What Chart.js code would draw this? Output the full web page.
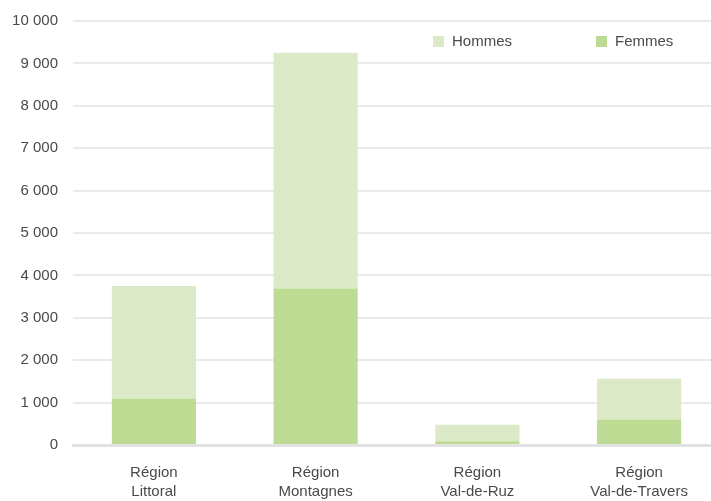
<!DOCTYPE html>
<html lang="fr">
<head>
    <meta charset="UTF-8">
    <title>Régions - Hommes / Femmes</title>
    <script src="https://cdn.jsdelivr.net/npm/chart.js"></script>
    <style>
        html, body {
            margin: 0;
            padding: 0;
            background: #ffffff;
            overflow: hidden;
        }
        #wrap {
            width: 720px;
            height: 504px;
            margin-top: -3px;
        }
    </style>
</head>
<body>
    <div id="wrap"><canvas id="chart"></canvas></div>

    <script>
        // données
        const regions = [['Région', 'Littoral'], ['Région', 'Montagnes'], ['Région', 'Val-de-Ruz'], ['Région', 'Val-de-Travers']];
        const femmes = [1095, 3690, 90, 600];
        const hommes = [2655, 5560, 385, 960];
        const legendOrder = ['Hommes', 'Femmes'];

        const textColor = '#4a4a4a';
        const fontFamily = "'Liberation Sans', Arial, sans-serif";

        // légende dessinée à la main (deux entrées sur une ligne)
        const customLegend = {
            id: 'customLegend',
            afterDraw(chart) {
                const ctx = chart.ctx;
                const xs = [433, 596];
                ctx.save();
                ctx.font = '15px ' + fontFamily;
                ctx.textBaseline = 'middle';
                legendOrder.forEach((name, i) => {
                    const ds = chart.data.datasets.find(d => d.label === name);
                    ctx.fillStyle = ds.backgroundColor;
                    ctx.fillRect(xs[i], 39, 11, 11);
                    ctx.fillStyle = textColor;
                    ctx.fillText(name, xs[i] + 19, 45);
                });
                ctx.restore();
            }
        };

        new Chart(document.getElementById('chart'), {
            type: 'bar',
            data: {
                labels: regions,
                datasets: [
                    { label: 'Femmes', data: femmes, backgroundColor: '#bedb93' },
                    { label: 'Hommes', data: hommes, backgroundColor: '#dce9c6' }
                ]
            },
            options: {
                responsive: true,
                maintainAspectRatio: false,
                animation: false,
                layout: { padding: { top: 9, left: 0, right: 0, bottom: 0 } },
                datasets: { bar: { barPercentage: 0.52, categoryPercentage: 1 } },
                plugins: {
                    legend: { display: false },
                    tooltip: { enabled: false }
                },
                scales: {
                    x: {
                        stacked: true,
                        grid: { display: false },
                        border: { display: true, color: '#e2e2e2', width: 3 },
                        ticks: {
                            color: textColor,
                            font: { family: fontFamily, size: 15, lineHeight: 1.3 },
                            padding: 10
                        },
                        afterFit(scale) { scale.height = 56; }
                    },
                    y: {
                        stacked: true,
                        min: 0,
                        max: 10000,
                        grid: { color: '#eaeaea', lineWidth: 2, drawTicks: false },
                        border: { display: false },
                        ticks: {
                            stepSize: 1000,
                            color: textColor,
                            padding: 15,
                            font: { family: fontFamily, size: 15 },
                            callback: v => String(v).replace(/\B(?=(\d{3})+(?!\d))/g, ' ')
                        },
                        afterFit(scale) { scale.width = 73; }
                    }
                }
            },
            plugins: [customLegend]
        });
    </script>
</body>
</html>
